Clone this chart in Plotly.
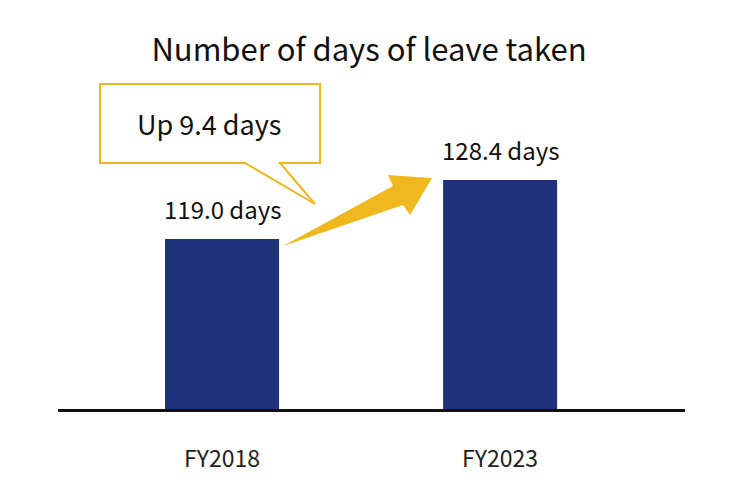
import plotly.graph_objects as go

categories = ["FY2018", "FY2023"]
values = [119.0, 128.4]
value_labels = ["119.0 days", "128.4 days"]
title_text = "Number of days of leave taken"
callout_text = "Up 9.4 days"

FONT = "Noto Sans CJK JP, Noto Sans, sans-serif"
NAVY = "#1F317B"
GOLD = "#F0B81E"

W, H = 741, 502
OX, OY = 8, 8  # page body offset of the figure in the window
# plot area in window pixels
X0, X1, YB, YT = 58, 685, 409, 100
L, R = X0 - OX, W - (X1 - OX)
T, B = YT - OY, H - (YB - OY)
PW, PH = X1 - X0, YB - YT

def px(x):
    return (x - X0) / PW

def py(y):
    return (YB - y) / PH

def path(points):
    return "M " + " L ".join(f"{px(a):.5f},{py(b):.5f}" for a, b in points) + " Z"

fig = go.Figure()
fig.add_trace(go.Bar(
    x=categories, y=values, width=0.41,
    marker=dict(color=NAVY, line=dict(width=0)),
    hoverinfo="skip",
))

for c, v, t in zip(categories, values, value_labels):
    fig.add_annotation(x=c, y=v, text=t, showarrow=False, xref="x", yref="y",
                       yanchor="bottom", yshift=11,
                       font=dict(family=FONT, size=24, color="#111111"))

# callout box with tail
callout = [(100, 84), (320, 84), (320, 163), (280, 163), (315, 204), (245, 163), (100, 163)]
fig.add_shape(type="path", path=path(callout), xref="paper", yref="paper",
              fillcolor="white", line=dict(color=GOLD, width=2))
fig.add_annotation(x=px(209), y=py(123), xref="paper", yref="paper", text=callout_text,
                   showarrow=False, xanchor="center", yanchor="middle",
                   font=dict(family=FONT, size=27, color="#111111"))

# tapered arrow
arrow = [(283, 246), (393, 186), (388, 175), (432, 178), (410, 215), (403, 205)]
fig.add_shape(type="path", path=path(arrow), xref="paper", yref="paper",
              fillcolor=GOLD, line=dict(color=GOLD, width=0))

fig.update_layout(
    width=W, height=H,
    margin=dict(l=L, r=R, t=T, b=B),
    paper_bgcolor="white", plot_bgcolor="white",
    showlegend=False,
    title=dict(text=title_text, x=(369 - OX) / W, xanchor="center", xref="container",
               y=1 - (50 - OY) / H, yanchor="middle", yref="container",
               font=dict(family=FONT, size=31, color="#111111")),
    xaxis=dict(range=[-0.59, 1.665], showgrid=False, zeroline=False,
               showline=True, linecolor="#111111", linewidth=3,
               ticks="", ticklabelstandoff=27,
               tickfont=dict(family=FONT, size=23, color="#222222")),
    yaxis=dict(range=[91.9, 141.16], visible=False, showgrid=False, zeroline=False),
)

fig.write_html("out.html")
